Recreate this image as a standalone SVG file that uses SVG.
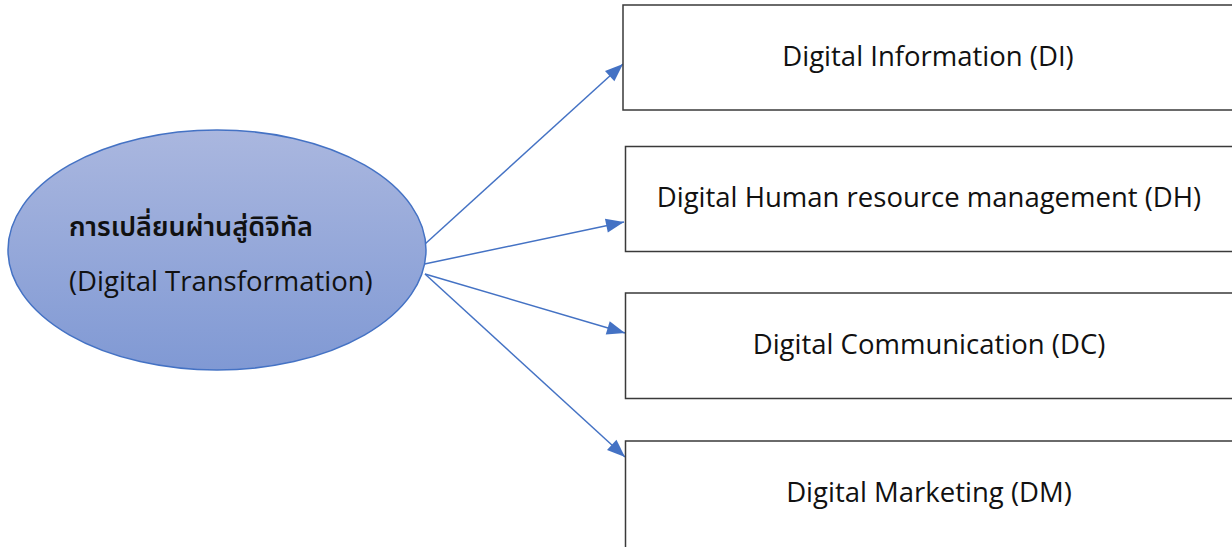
<svg xmlns="http://www.w3.org/2000/svg" width="1232" height="547" viewBox="0 0 1232 547">
  <style>
    .box { fill: #ffffff; stroke: #3a3a3a; stroke-width: 1.5; }
    .label { font-family: "Open Sans", "Noto Sans", "Noto Sans Thai", "DejaVu Sans", sans-serif; font-size: 27.5px; fill: #111111; }
    .thai { font-size: 27px; font-weight: 600; }
    .mid { text-anchor: middle; }
    .link { stroke: #4472c4; stroke-width: 1.5; fill: none; marker-end: url(#arrow); }
  </style>
  <defs>
    <linearGradient id="ovalFill" x1="0" y1="0" x2="0" y2="1">
      <stop offset="0" stop-color="#aab7df"/>
      <stop offset="1" stop-color="#8099d4"/>
    </linearGradient>
    <marker id="arrow" viewBox="-18 -7.5 19 15" refX="0" refY="0" markerWidth="19" markerHeight="15" markerUnits="userSpaceOnUse" orient="auto" overflow="visible">
      <path d="M-18,-7 L0,0 L-18,7 z" fill="#4472c4"/>
    </marker>
  </defs>

  <!-- connectors from the central oval to each area -->
  <g id="connectors">
    <line class="link" x1="425" y1="244" x2="623" y2="64"/>
    <line class="link" x1="415" y1="266" x2="624" y2="222"/>
    <line class="link" x1="425" y1="274" x2="625" y2="333"/>
    <line class="link" x1="425" y1="274" x2="625" y2="457"/>
  </g>

  <g id="digital-transformation">
    <ellipse cx="217" cy="250" rx="209" ry="120" fill="url(#ovalFill)" stroke="#4472c4" stroke-width="1.5"/>
    <text class="label thai" x="69" y="236">การเปลี่ยนผ่านสู่ดิจิทัล</text>
    <text class="label" x="69" y="291">(Digital Transformation)</text>
  </g>

  <g id="digital-information">
    <rect class="box" x="623" y="5" width="640" height="105"/>
    <text class="label mid" x="928" y="66">Digital Information (DI)</text>
  </g>

  <g id="digital-hr">
    <rect class="box" x="625.5" y="146.5" width="640" height="105"/>
    <text class="label mid" x="929" y="207">Digital Human resource management (DH)</text>
  </g>

  <g id="digital-communication">
    <rect class="box" x="625.5" y="293" width="640" height="105.5"/>
    <text class="label mid" x="929" y="354">Digital Communication (DC)</text>
  </g>

  <g id="digital-marketing">
    <rect class="box" x="625.5" y="441" width="640" height="120"/>
    <text class="label mid" x="929" y="502">Digital Marketing (DM)</text>
  </g>
</svg>
